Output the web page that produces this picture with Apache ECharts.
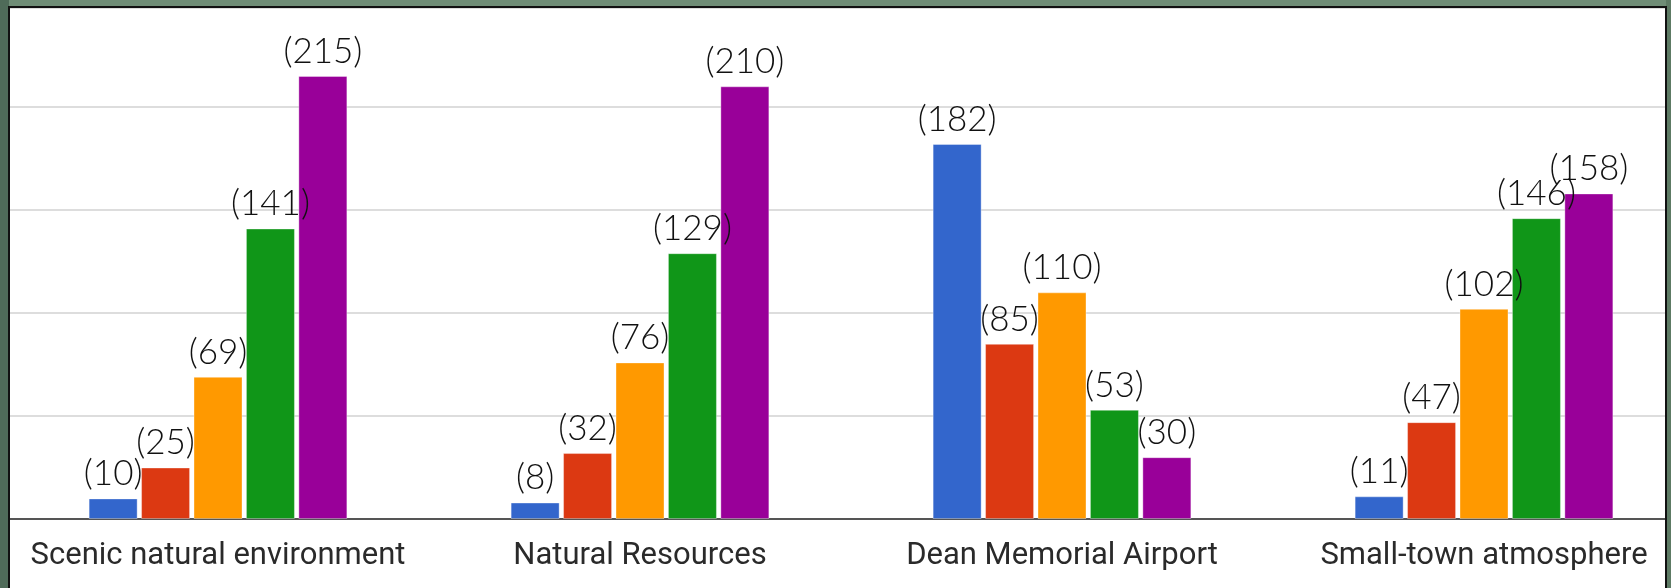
<!DOCTYPE html>
<html>
<head>
<meta charset="utf-8">
<script src="https://cdn.jsdelivr.net/npm/echarts@6/dist/echarts.min.js"></script>
<style>
html,body{margin:0;padding:0;background:#6d8b73;}
#c{width:1671px;height:588px;}
</style>
</head>
<body>
<div id="c"></div>
<script>
var categories = ['Scenic natural environment', 'Natural Resources', 'Dean Memorial Airport', 'Small-town atmosphere'];
var blueValues = [10, 8, 182, 11];
var redValues = [25, 32, 85, 47];
var orangeValues = [69, 76, 110, 102];
var greenValues = [141, 129, 53, 146];
var purpleValues = [215, 210, 30, 158];
var seriesColors = ['#3366cc', '#dc3912', '#ff9900', '#109618', '#990099'];

var chart = echarts.init(document.getElementById('c'), null, {renderer: 'canvas'});
function mk(data, color) {
  return {
    type: 'bar',
    data: data,
    barWidth: 49,
    barGap: '7%',
    itemStyle: {color: color, borderColor: 'rgba(255,255,255,0.35)', borderWidth: 1},
    label: {
      show: true,
      position: 'top',
      distance: 7,
      formatter: function (p) { return '(' + p.value + ')'; },
      fontFamily: 'Lato',
      fontWeight: 300,
      fontSize: 35,
      color: '#111'
    },
    animation: false
  };
}
var option = {
  backgroundColor: '#ffffff',
  animation: false,
  grid: {left: 7, width: 1688, top: 8, bottom: 69, containLabel: false, outerBoundsMode: 'none'},
  xAxis: {
    type: 'category',
    data: categories,
    axisTick: {show: false},
    axisLine: {lineStyle: {color: '#555', width: 2}},
    axisLabel: {fontFamily: 'Roboto', fontSize: 31, color: '#2a2a2a', margin: 22, interval: 0, hideOverlap: false}
  },
  yAxis: {
    type: 'value',
    min: 0,
    max: 248,
    interval: 50,
    axisLabel: {show: false},
    axisLine: {show: false},
    axisTick: {show: false},
    splitLine: {lineStyle: {color: '#dddddd', width: 2}}
  },
  series: [
    mk(blueValues, seriesColors[0]),
    mk(redValues, seriesColors[1]),
    mk(orangeValues, seriesColors[2]),
    mk(greenValues, seriesColors[3]),
    mk(purpleValues, seriesColors[4])
  ],
  graphic: {
    elements: [
      {type: 'rect', z: 100, shape: {x: 0, y: 0, width: 1671, height: 7}, style: {fill: '#6f8d76'}},
      {type: 'rect', z: 100, shape: {x: 0, y: 0, width: 9, height: 588}, style: {fill: '#4f6b59'}},
      {type: 'rect', z: 100, shape: {x: 1666, y: 0, width: 5, height: 588}, style: {fill: '#5d7a64'}},
      {type: 'rect', z: 101, shape: {x: 9, y: 7, width: 1657, height: 600}, style: {fill: 'none', stroke: '#111', lineWidth: 2}}
    ]
  }
};
chart.setOption(option);
</script>
</body>
</html>
